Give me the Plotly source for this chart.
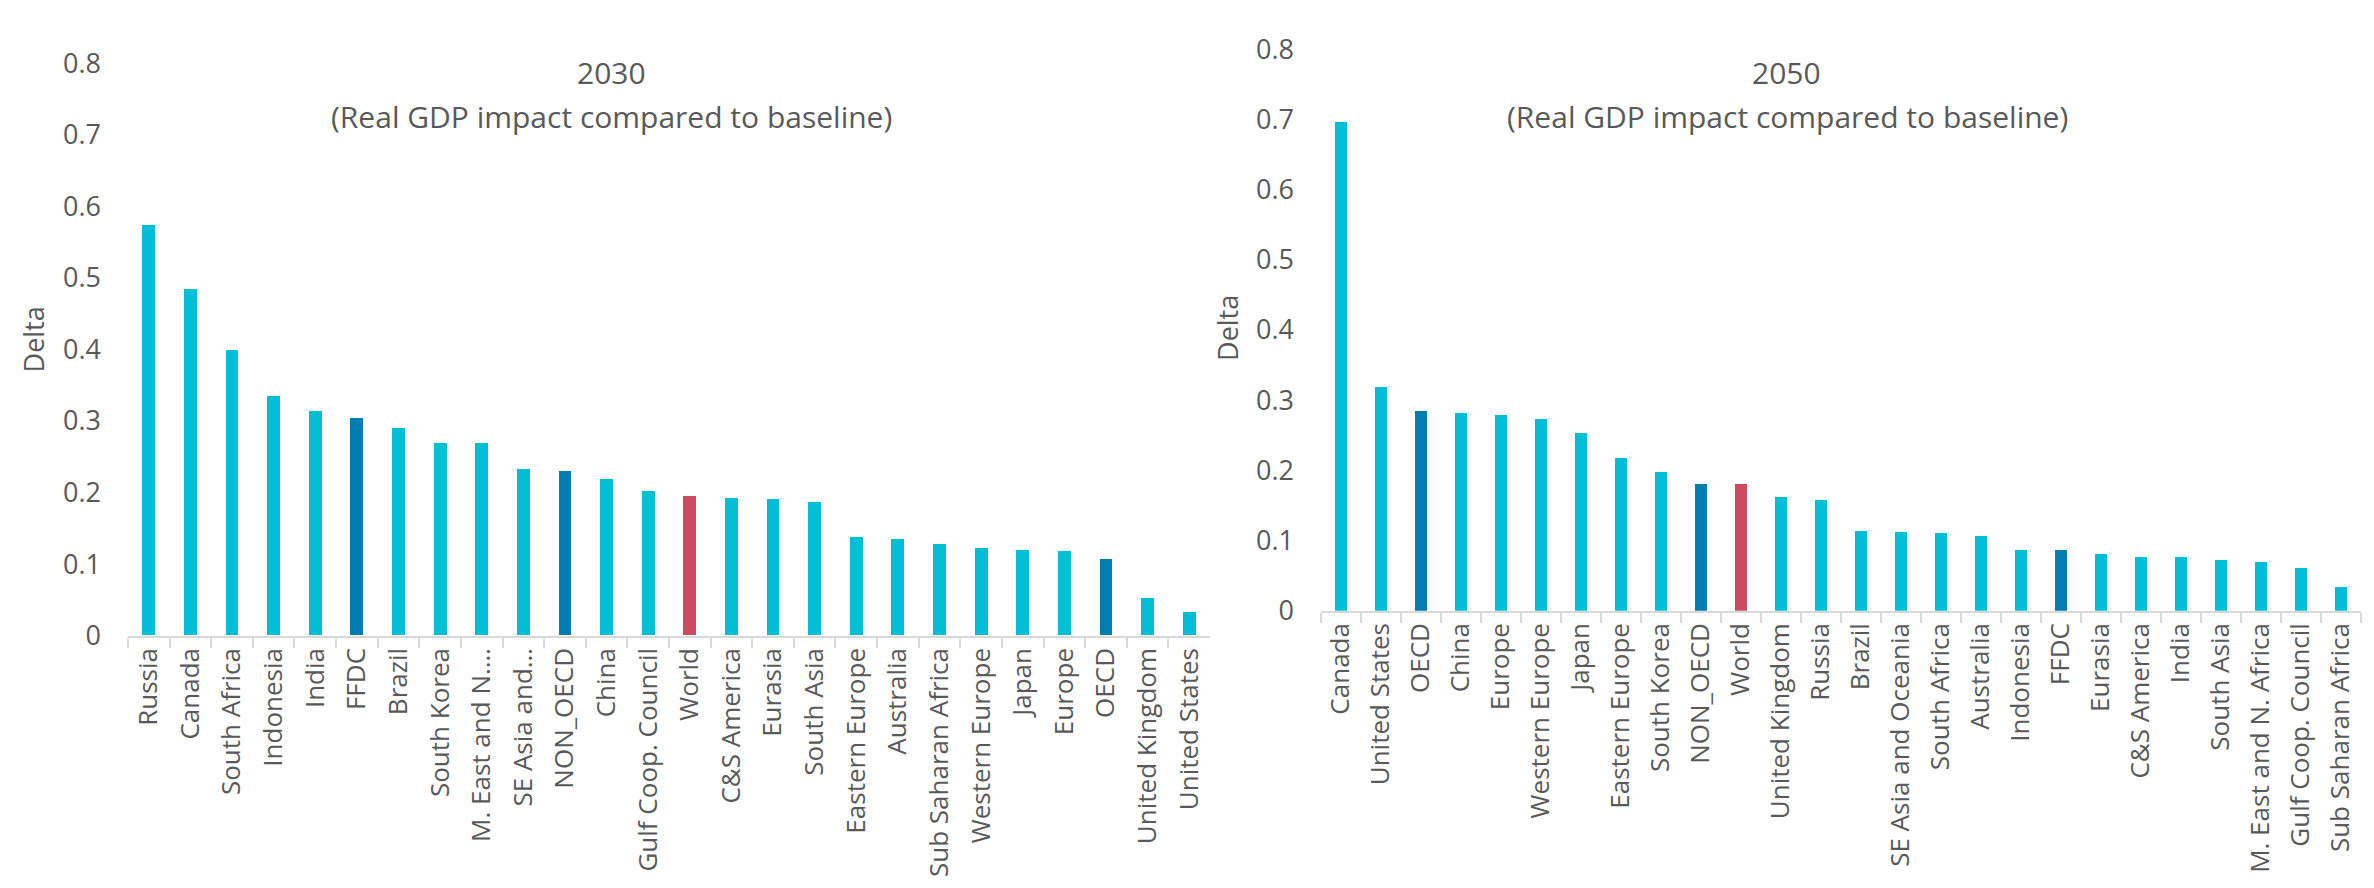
import plotly.graph_objects as go

W, H = 2374, 888

cats_2030 = ["Russia", "Canada", "South Africa", "Indonesia", "India", "FFDC", "Brazil",
             "South Korea", "M. East and N.…", "SE Asia and…", "NON_OECD", "China",
             "Gulf Coop. Council", "World", "C&S America", "Eurasia", "South Asia",
             "Eastern Europe", "Australia", "Sub Saharan Africa", "Western Europe", "Japan",
             "Europe", "OECD", "United Kingdom", "United States"]
vals_2030 = [0.574, 0.484, 0.399, 0.335, 0.314, 0.304, 0.289, 0.269, 0.269, 0.232, 0.229,
             0.218, 0.201, 0.194, 0.192, 0.191, 0.186, 0.137, 0.135, 0.127, 0.122, 0.119,
             0.117, 0.106, 0.052, 0.032]

cats_2050 = ["Canada", "United States", "OECD", "China", "Europe", "Western Europe", "Japan",
             "Eastern Europe", "South Korea", "NON_OECD", "World", "United Kingdom", "Russia",
             "Brazil", "SE Asia and Oceania", "South Africa", "Australia", "Indonesia", "FFDC",
             "Eurasia", "C&S America", "India", "South Asia", "M. East and N. Africa",
             "Gulf Coop. Council", "Sub Saharan Africa"]
vals_2050 = [0.696, 0.318, 0.284, 0.281, 0.278, 0.273, 0.253, 0.218, 0.198, 0.181, 0.180,
             0.162, 0.157, 0.114, 0.112, 0.111, 0.106, 0.087, 0.086, 0.081, 0.077, 0.076,
             0.072, 0.069, 0.060, 0.033]

y_ticks = [0, 0.1, 0.2, 0.3, 0.4, 0.5, 0.6, 0.7, 0.8]

CYAN = "#00BED6"
DARK = "#007DB1"
RED = "#CD4A5F"
dark_set = {"FFDC", "NON_OECD", "OECD"}
red_set = {"World"}


def colour(c):
    if c in red_set:
        return RED
    if c in dark_set:
        return DARK
    return CYAN


TXT = "#595959"
AX = "#D9D9D9"
FONT = "Open Sans"

fig = go.Figure()
fig.add_trace(go.Bar(x=cats_2030, y=vals_2030, marker_color=[colour(c) for c in cats_2030],
                     marker_line_width=0, width=0.31, xaxis="x", yaxis="y"))
fig.add_trace(go.Bar(x=cats_2050, y=vals_2050, marker_color=[colour(c) for c in cats_2050],
                     marker_line_width=0, width=0.31, xaxis="x2", yaxis="y2"))

xcommon = dict(showline=True, linecolor=AX, linewidth=2, ticks="outside", tickson="boundaries",
               ticklen=10, tickcolor=AX, tickwidth=2, tickangle=-90,
               tickfont=dict(family=FONT, size=26, color=TXT), showgrid=False, zeroline=False,
               fixedrange=True)
ycommon = dict(range=[0, 0.8], tickvals=y_ticks, showgrid=False, zeroline=False, showline=False,
               ticks="", tickfont=dict(family=FONT, size=27, color=TXT), ticklabelstandoff=26,
               fixedrange=True)

fig.update_layout(
    width=W, height=H, autosize=False,
    margin=dict(l=0, r=0, t=0, b=0),
    paper_bgcolor="white", plot_bgcolor="white",
    showlegend=False, bargap=0,
    xaxis=dict(domain=[120 / W, 1202 / W], anchor="y", **xcommon),
    yaxis=dict(domain=[(H - 634) / H, (H - 37) / H], anchor="x", **ycommon),
    xaxis2=dict(domain=[1313 / W, 2353 / W], anchor="y2", **xcommon),
    yaxis2=dict(domain=[(H - 608) / H, (H - 22) / H], anchor="x2", **ycommon),
)


def ann(text, x, y, size, angle=0):
    fig.add_annotation(text=text, x=x / W, y=1 - y / H, xref="paper", yref="paper",
                       xanchor="center", yanchor="middle", showarrow=False, textangle=angle,
                       font=dict(family=FONT, size=size, color=TXT))


ann("2030", 604, 46, 30)
ann("(Real GDP impact compared to baseline)", 604, 92, 30)
ann("2050", 1778, 46, 30)
ann("(Real GDP impact compared to baseline)", 1779, 92, 30)
ann("Delta", 25, 325, 27, -90)
ann("Delta", 1220, 313, 27, -90)

fig.write_html("out.html")
